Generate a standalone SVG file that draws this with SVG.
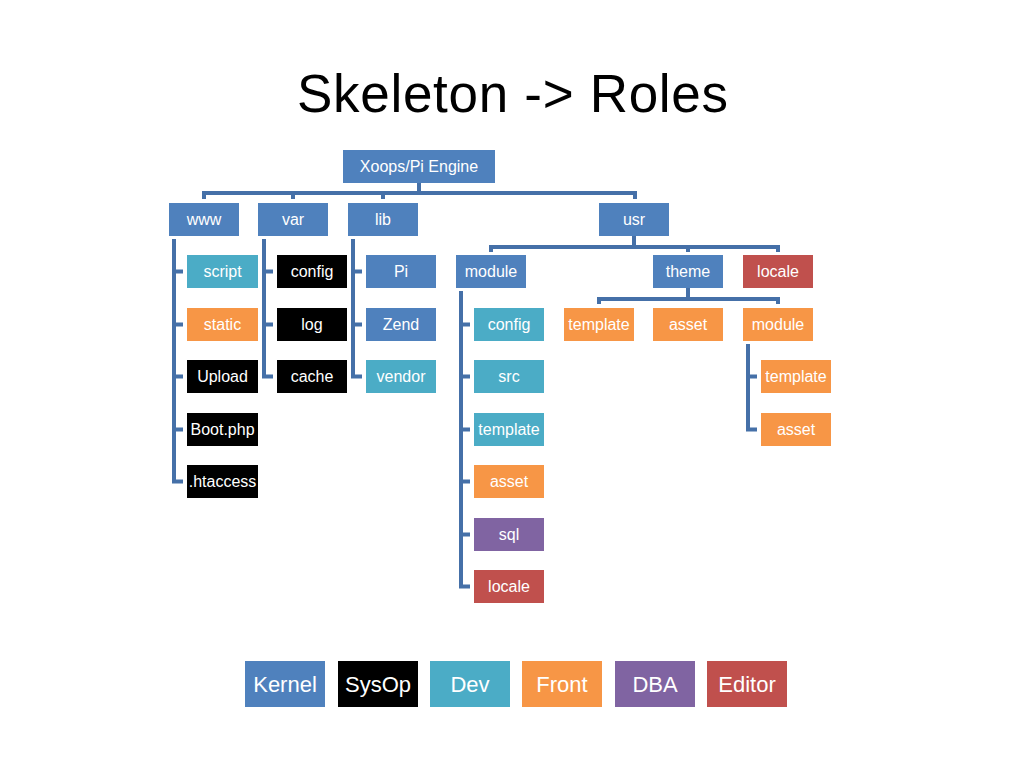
<svg xmlns="http://www.w3.org/2000/svg" width="1027" height="767" viewBox="0 0 1027 767">
<style>
.k{fill:#4F81BD}.s{fill:#000000}.d{fill:#4BACC6}.f{fill:#F79646}.b{fill:#8064A2}.e{fill:#C0504D}
.t{font-family:"Liberation Sans",Arial,sans-serif;font-size:16px;fill:#FFFFFF;text-anchor:middle}
.lt{font-family:"Liberation Sans",Arial,sans-serif;font-size:22px;fill:#FFFFFF;text-anchor:middle}
.c{fill:none;stroke:#4570A8;stroke-width:4;stroke-linejoin:miter}
</style>
<rect width="1027" height="767" fill="#FFFFFF"/>
<text x="512.5" y="112" font-family="Liberation Sans, Arial, sans-serif" font-size="53" text-anchor="middle" fill="#000000" textLength="431">Skeleton -&gt; Roles</text>
<g id="connectors">
<path class="c" d="M419,183V193M204,199V193H635V199M293,193V199M383,193V199"/>
<path class="c" d="M634,236V247M491,252V247H778V252M688,247V252"/>
<path class="c" d="M688,288V299M599,304V299H778V304"/>
<path class="c" d="M174,239V481.5H183M174,271.5H183M174,324.5H183M174,376.5H183M174,429.5H183"/>
<path class="c" d="M264,239V376.5H273M264,271.5H273M264,324.5H273"/>
<path class="c" d="M353,239V376.5H362M353,271.5H362M353,324.5H362"/>
<path class="c" d="M461,291V586.5H470M461,324.5H470M461,376.5H470M461,429.5H470M461,481.5H470M461,534.5H470"/>
<path class="c" d="M748,344V429.5H757M748,376.5H757"/>
</g>
<g id="root"><rect class="k" x="343" y="150" width="152" height="33"/><text class="t" x="419" y="172">Xoops/Pi Engine</text></g>
<g id="www"><rect class="k" x="169" y="203" width="70" height="33"/><text class="t" x="204" y="225">www</text></g>
<g id="var"><rect class="k" x="258" y="203" width="70" height="33"/><text class="t" x="293" y="225">var</text></g>
<g id="lib"><rect class="k" x="348" y="203" width="70" height="33"/><text class="t" x="383" y="225">lib</text></g>
<g id="usr"><rect class="k" x="599" y="203" width="70" height="33"/><text class="t" x="634" y="225">usr</text></g>
<g id="www-script"><rect class="d" x="187" y="255" width="71" height="33"/><text class="t" x="222.5" y="277">script</text></g>
<g id="www-static"><rect class="f" x="187" y="308" width="71" height="33"/><text class="t" x="222.5" y="330">static</text></g>
<g id="www-upload"><rect class="s" x="187" y="360" width="71" height="33"/><text class="t" x="222.5" y="382">Upload</text></g>
<g id="www-boot"><rect class="s" x="187" y="413" width="71" height="33"/><text class="t" x="222.5" y="435">Boot.php</text></g>
<g id="www-htaccess"><rect class="s" x="187" y="465" width="71" height="33"/><text class="t" x="222.5" y="487">.htaccess</text></g>
<g id="var-config"><rect class="s" x="277" y="255" width="70" height="33"/><text class="t" x="312" y="277">config</text></g>
<g id="var-log"><rect class="s" x="277" y="308" width="70" height="33"/><text class="t" x="312" y="330">log</text></g>
<g id="var-cache"><rect class="s" x="277" y="360" width="70" height="33"/><text class="t" x="312" y="382">cache</text></g>
<g id="lib-pi"><rect class="k" x="366" y="255" width="70" height="33"/><text class="t" x="401" y="277">Pi</text></g>
<g id="lib-zend"><rect class="k" x="366" y="308" width="70" height="33"/><text class="t" x="401" y="330">Zend</text></g>
<g id="lib-vendor"><rect class="d" x="366" y="360" width="70" height="33"/><text class="t" x="401" y="382">vendor</text></g>
<g id="usr-module"><rect class="k" x="456" y="255" width="70" height="33"/><text class="t" x="491" y="277">module</text></g>
<g id="usr-theme"><rect class="k" x="653" y="255" width="70" height="33"/><text class="t" x="688" y="277">theme</text></g>
<g id="usr-locale"><rect class="e" x="743" y="255" width="70" height="33"/><text class="t" x="778" y="277">locale</text></g>
<g id="module-config"><rect class="d" x="474" y="308" width="70" height="33"/><text class="t" x="509" y="330">config</text></g>
<g id="module-src"><rect class="d" x="474" y="360" width="70" height="33"/><text class="t" x="509" y="382">src</text></g>
<g id="module-template"><rect class="d" x="474" y="413" width="70" height="33"/><text class="t" x="509" y="435">template</text></g>
<g id="module-asset"><rect class="f" x="474" y="465" width="70" height="33"/><text class="t" x="509" y="487">asset</text></g>
<g id="module-sql"><rect class="b" x="474" y="518" width="70" height="33"/><text class="t" x="509" y="540">sql</text></g>
<g id="module-locale"><rect class="e" x="474" y="570" width="70" height="33"/><text class="t" x="509" y="592">locale</text></g>
<g id="theme-template"><rect class="f" x="564" y="308" width="70" height="33"/><text class="t" x="599" y="330">template</text></g>
<g id="theme-asset"><rect class="f" x="653" y="308" width="70" height="33"/><text class="t" x="688" y="330">asset</text></g>
<g id="theme-module"><rect class="f" x="743" y="308" width="70" height="33"/><text class="t" x="778" y="330">module</text></g>
<g id="theme-module-template"><rect class="f" x="761" y="360" width="70" height="33"/><text class="t" x="796" y="382">template</text></g>
<g id="theme-module-asset"><rect class="f" x="761" y="413" width="70" height="33"/><text class="t" x="796" y="435">asset</text></g>
<g id="legend">
<rect class="k" x="245" y="661" width="80" height="46"/><text class="lt" x="285" y="692">Kernel</text>
<rect class="s" x="338" y="661" width="80" height="46"/><text class="lt" x="378" y="692">SysOp</text>
<rect class="d" x="430" y="661" width="80" height="46"/><text class="lt" x="470" y="692">Dev</text>
<rect class="f" x="522" y="661" width="80" height="46"/><text class="lt" x="562" y="692">Front</text>
<rect class="b" x="615" y="661" width="80" height="46"/><text class="lt" x="655" y="692">DBA</text>
<rect class="e" x="707" y="661" width="80" height="46"/><text class="lt" x="747" y="692">Editor</text>
</g>
</svg>
